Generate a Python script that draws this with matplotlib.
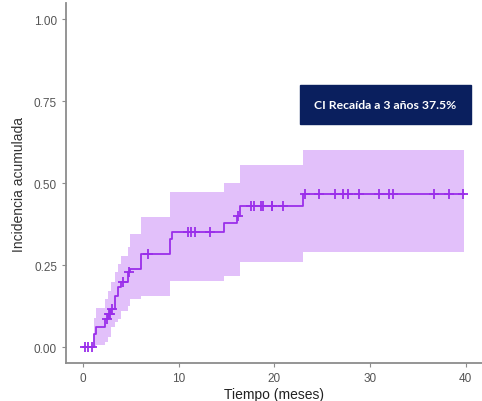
import numpy as np
import matplotlib.pyplot as plt

# Curva de incidencia acumulada (escalones) con IC
tiempos = [0, 1.1, 1.4, 2.3, 2.6, 2.9, 3.3, 3.7, 4.0, 4.7, 4.9, 6.1, 9.1, 9.3, 14.7, 16.1, 16.4, 23.0]
incidencia = [0, 0.04, 0.06, 0.085, 0.10, 0.116, 0.156, 0.183, 0.197, 0.228, 0.238, 0.283,
              0.33, 0.35, 0.378, 0.40, 0.429, 0.466]
ic_sup = [0, 0.09, 0.12, 0.146, 0.17, 0.198, 0.228, 0.253, 0.278, 0.305, 0.345, 0.398,
          0.472, 0.472, 0.50, 0.50, 0.555, 0.60]
ic_inf = [0, 0.0, 0.005, 0.015, 0.03, 0.06, 0.075, 0.085, 0.11, 0.126, 0.146, 0.155,
          0.2, 0.2, 0.217, 0.217, 0.258, 0.289]
t_final = 39.8

# Censuras
censuras = [0.2, 0.5, 0.9, 2.5, 2.7, 2.8, 3.0, 4.2, 4.8, 6.8, 11.0, 11.3, 11.7, 13.3, 16.2,
            17.6, 17.9, 18.6, 18.8, 19.7, 19.8, 20.9, 23.2, 24.7, 26.3, 27.2, 27.7, 28.8,
            30.9, 32.0, 32.4, 36.7, 38.2, 39.7]

texto_caja = 'CI Recaída a 3 años 37.5%'

color_linea = '#9A2EEA'
color_banda = '#E2C0FA'

t = np.array(tiempos + [t_final])
est = np.array(incidencia + [incidencia[-1]])
sup = np.array(ic_sup + [ic_sup[-1]])
inf = np.array(ic_inf + [ic_inf[-1]])

fig = plt.figure(figsize=(4.82, 4.02), dpi=100)
ax = fig.add_axes([0.137, 0.0945, 0.863, 0.895])

ax.fill_between(t, inf, sup, step='post', color=color_banda, linewidth=0)
ax.step(t, est, where='post', color=color_linea, linewidth=1.3)

idx = np.searchsorted(tiempos, censuras, side='right') - 1
ax.plot(censuras, np.array(incidencia)[idx], linestyle='none', marker='+',
        markersize=7, markeredgewidth=1.3, color=color_linea)

ax.text(31.6, 0.74, texto_caja, ha='center', va='center', color='white',
        fontsize=8.8, fontweight='bold', family='Lato',
        bbox=dict(boxstyle='square,pad=1.15', facecolor='#0A1F5E', edgecolor='#0A1F5E'))

ax.set_xlim(-1.78, 41.7)
ax.set_ylim(-0.0488, 1.049)
ax.set_xticks([0, 10, 20, 30, 40])
ax.set_yticks([0, 0.25, 0.5, 0.75, 1.0])
ax.set_yticklabels(['0.00', '0.25', '0.50', '0.75', '1.00'])

for s in ['top', 'right']:
    ax.spines[s].set_visible(False)
for s in ['left', 'bottom']:
    ax.spines[s].set_color('#8C8C8C')
    ax.spines[s].set_linewidth(1.3)
ax.tick_params(colors='#8C8C8C', labelcolor='#555555', labelsize=8.5, length=3,
               labelfontfamily='Liberation Sans')

ax.set_xlabel('Tiempo (meses)', fontsize=10, color='#222222', family='Liberation Sans', labelpad=2)
ax.set_ylabel('Incidencia acumulada', fontsize=10, color='#333333', family='Liberation Sans', labelpad=6)

plt.savefig('out.png', dpi=100)
